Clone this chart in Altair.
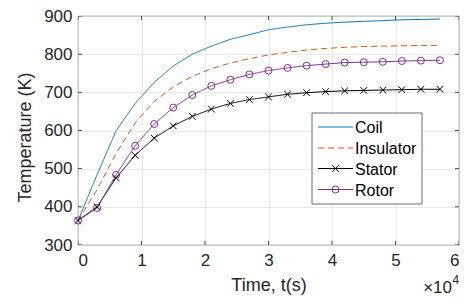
import altair as alt
import pandas as pd

# ---- data ----
time_s = [0, 3000, 6000, 9000, 12000, 15000, 18000, 21000, 24000, 27000,
          30000, 33000, 36000, 39000, 42000, 45000, 48000, 51000, 54000, 57000]
coil = [364, 484, 599, 671, 726, 769, 800, 821, 839, 851,
        864, 871, 877, 881, 884, 886, 888, 890, 891, 892]
insulator = [364, 445, 540, 620, 676, 714, 742, 762, 777, 788,
             798, 805, 811, 815, 818, 820, 821, 822, 823, 823]
stator = [364, 400, 476, 535, 580, 612, 637, 656, 671, 681,
          688, 695, 699, 702, 704, 705, 706, 707, 708, 708]
rotor = [364, 397, 484, 560, 617, 660, 693, 717, 733, 747,
         757, 764, 770, 774, 778, 779, 780, 782, 783, 784]

series_names = ["Coil", "Insulator", "Stator", "Rotor"]
series_colors = ["#0072BD", "#D95319", "#000000", "#7E2F8E"]
series_dash = [[1, 0], [6, 4], [1, 0], [1, 0]]
x_ticks = [0, 1, 2, 3, 4, 5, 6]
y_ticks = [300, 400, 500, 600, 700, 800, 900]
x_factor = 1e4

rows = []
for name, vals in zip(series_names, [coil, insulator, stator, rotor]):
    for ts, v in zip(time_s, vals):
        rows.append({"series": name, "t": ts / x_factor, "T": v})
df = pd.DataFrame(rows)

W, H = 381, 229
AX = "#262626"
FONT = "Liberation Sans"
CROSS = "M-1,-1L1,1M-1,1L1,-1"

xs = alt.Scale(domain=[x_ticks[0], x_ticks[-1]], nice=False, zero=False)
ys = alt.Scale(domain=[y_ticks[0], y_ticks[-1]], nice=False, zero=False)
cs = alt.Scale(domain=series_names, range=series_colors)
ds = alt.Scale(domain=series_names, range=series_dash)

x_axis = alt.Axis(values=x_ticks, format="d", title="Time, t(s)",
                  labelPadding=7, titlePadding=8, labelOverlap=False, labelBound=False)
y_axis = alt.Axis(values=y_ticks, format="d", title="Temperature (K)",
                  labelPadding=6, titlePadding=9, labelOverlap=False, labelBound=False,
                  titleY=121)

X = alt.X("t:Q", scale=xs, axis=x_axis)
Y = alt.Y("T:Q", scale=ys, axis=y_axis)

lines = alt.Chart(df).mark_line(strokeWidth=1).encode(
    x=X, y=Y,
    color=alt.Color("series:N", scale=cs, legend=None),
    strokeDash=alt.StrokeDash("series:N", scale=ds, legend=None),
)

stator_pts = alt.Chart(df).transform_filter(alt.datum.series == "Stator").mark_point(
    shape=CROSS, size=44, filled=False, strokeWidth=1, color=series_colors[2], opacity=1
).encode(x=X, y=Y)

rotor_pts = alt.Chart(df).transform_filter(alt.datum.series == "Rotor").mark_point(
    shape="circle", size=49, filled=False, strokeWidth=1, color=series_colors[3], opacity=1
).encode(x=X, y=Y)

# inward ticks on all four sides (MATLAB box style)
xt_df = pd.DataFrame({"t": x_ticks * 2,
                      "T": [y_ticks[0]] * len(x_ticks) + [y_ticks[-1]] * len(x_ticks)})
yt_df = pd.DataFrame({"t": [x_ticks[0]] * len(y_ticks) + [x_ticks[-1]] * len(y_ticks),
                      "T": y_ticks * 2})
xt = alt.Chart(xt_df).mark_tick(orient="vertical", size=8, thickness=0.8, color=AX,
                                clip=True, opacity=1).encode(x=X, y=Y)
yt = alt.Chart(yt_df).mark_tick(orient="horizontal", size=8, thickness=0.8, color=AX,
                                clip=True, opacity=1).encode(x=X, y=Y)

# ---- manual legend (layout in pixels) ----
one = pd.DataFrame({"a": [0]})
LX0, LX1, LY0, LY1 = 234, 344, 97, 188
row_y = [111, 132, 152.5, 173.5]
SX0, SX1, SXM, TX = 240, 275, 257.5, 277

legend_layers = [
    alt.Chart(one).mark_rect(fill="white", stroke="#6b6b6b", strokeWidth=1).encode(
        x=alt.value(LX0), x2=alt.value(LX1), y=alt.value(LY0), y2=alt.value(LY1))
]
for i, name in enumerate(series_names):
    ld = pd.DataFrame({"name": [name]})
    legend_layers.append(
        alt.Chart(ld).mark_rule(color=series_colors[i], strokeWidth=1,
                                strokeDash=series_dash[i]).encode(
            x=alt.value(SX0), x2=alt.value(SX1), y=alt.value(row_y[i])))
    if name == "Stator":
        legend_layers.append(
            alt.Chart(ld).mark_point(shape=CROSS, size=44, filled=False, strokeWidth=1,
                                     color=series_colors[i], opacity=1).encode(
                x=alt.value(SXM), y=alt.value(row_y[i])))
    if name == "Rotor":
        legend_layers.append(
            alt.Chart(ld).mark_point(shape="circle", size=49, filled=False, strokeWidth=1,
                                     color=series_colors[i], opacity=1).encode(
                x=alt.value(SXM), y=alt.value(row_y[i])))
    legend_layers.append(
        alt.Chart(ld).mark_text(align="left", baseline="middle", fontSize=16, font=FONT,
                                color="#000000").encode(
            x=alt.value(TX), y=alt.value(row_y[i] + 1), text="name:N"))

# ---- x10^4 exponent label ----
exp_base = alt.Chart(one).mark_text(text="×10", align="right", baseline="alphabetic",
                                    fontSize=17, font=FONT, color=AX).encode(
    x=alt.value(374), y=alt.value(277))
exp_pow = alt.Chart(one).mark_text(text="4", align="left", baseline="alphabetic",
                                   fontSize=12, font=FONT, color=AX).encode(
    x=alt.value(374.5), y=alt.value(268))

chart = alt.layer(
    lines, stator_pts, rotor_pts, xt, yt, *legend_layers, exp_base, exp_pow
).properties(
    width=W, height=H,
    autosize=alt.AutoSizeParams(type="none"),
    padding={"left": 70, "top": 8, "right": 7, "bottom": 51},
    background="white",
).configure_axis(
    grid=True, gridColor="#e2e2e2", gridWidth=0.8, domain=False, ticks=False,
    labelOverlap=False,
    labelFont=FONT, labelFontSize=17, labelColor=AX,
    titleFont=FONT, titleFontSize=18, titleColor=AX, titleFontWeight="normal",
).configure_view(stroke=AX, strokeWidth=0.8)

chart.save("out.html", embed_options={"renderer": "svg", "actions": False})
